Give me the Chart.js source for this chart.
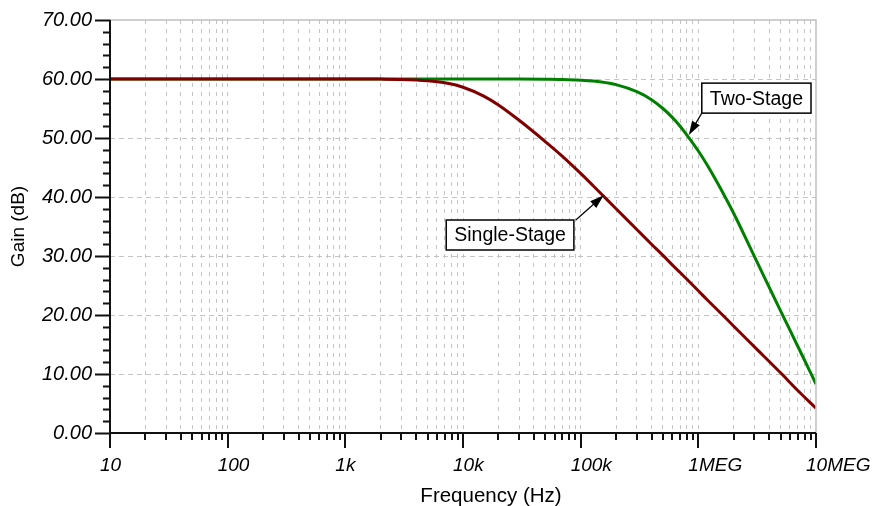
<!DOCTYPE html>
<html>
<head>
<meta charset="utf-8">
<script src="https://cdn.jsdelivr.net/npm/chart.js@4.4.1/dist/chart.umd.min.js"></script>
<style>
  html, body { margin: 0; padding: 0; background: #fff; }
</style>
</head>
<body>
<canvas id="gainChart" width="876" height="506"></canvas>
<script>
// frequency points (Hz) and gain (dB)
const freqs = [10, 100, 1000, 2000, 3000, 5000, 7000, 10000, 15000, 20000, 30000, 50000, 70000,
  100000, 150000, 200000, 300000, 400000, 500000, 600000, 700000, 800000,
  1e6, 1.2e6, 1.5e6, 2e6, 3e6, 5e6, 7e6, 1e7];
const singleStage = [60, 60, 60, 59.98, 59.93, 59.7, 59.35, 58.6, 57.1, 55.6, 53.0, 49.4, 46.9,
  44.0, 40.5, 38.0, 34.5, 32.0, 30.1, 28.5, 27.2, 26.05,
  24.1, 22.5, 20.6, 18.1, 14.6, 10.2, 7.2, 4.2];
const twoStage = [60, 60, 60, 60, 60, 60, 60, 60, 60, 60, 60, 59.97, 59.93,
  59.8, 59.5, 59.05, 57.85, 56.5, 55.0, 53.5, 52.0, 50.5,
  47.8, 45.3, 41.9, 37.2, 29.9, 20.7, 14.7, 8.3];

const xTickValues = [10, 100, 1000, 10000, 100000, 1e6, 1e7];
const xTickLabels = ["10", "100", "1k", "10k", "100k", "1MEG", "10MEG"];
const minorSteps = [1, 2, 3, 4, 5, 6, 7, 8, 9];
const yTickValues = [0, 10, 20, 30, 40, 50, 60, 70];

// callouts: box corner and arrow tip in data units
const callouts = [
  { text: "Single-Stage", boxF: 7200, boxDb: 36.1, tipF: 157000, tipDb: 40.3, from: "topRight" },
  { text: "Two-Stage", boxF: 1.07e6, boxDb: 59.3, tipF: 830000, tipDb: 50.5, from: "bottomLeft" }
];

const FONT = '"Liberation Sans", Arial, sans-serif';

const gridFreqs = [];
xTickValues.slice(0, -1).forEach((d) => minorSteps.forEach((m) => gridFreqs.push(d * m)));
gridFreqs.push(1e7);

function toPoints(values) {
  return freqs.map((f, i) => ({ x: f, y: values[i] }));
}

const axisExtras = {
  id: "axisExtras",
  afterDraw(chart) {
    const { ctx, chartArea: a, scales: { x, y } } = chart;
    ctx.save();

    // light frame on top and right
    ctx.strokeStyle = "#c0c0c0";
    ctx.lineWidth = 1.5;
    ctx.beginPath();
    ctx.moveTo(a.left, a.top);
    ctx.lineTo(a.right, a.top);
    ctx.lineTo(a.right, a.bottom);
    ctx.stroke();

    // axis lines
    ctx.strokeStyle = "#111";
    ctx.lineWidth = 2;
    ctx.beginPath();
    ctx.moveTo(a.left, a.top);
    ctx.lineTo(a.left, a.bottom);
    ctx.moveTo(a.left, a.bottom);
    ctx.lineTo(a.right, a.bottom);
    ctx.stroke();

    // y tick marks, minor every 2 dB
    ctx.beginPath();
    for (let v = 0; v <= 70; v += 2) {
      const py = Math.round(y.getPixelForValue(v)) + 0.5;
      const len = v % 10 === 0 ? 15 : 7;
      ctx.moveTo(a.left - len, py);
      ctx.lineTo(a.left, py);
    }
    // x tick marks
    gridFreqs.forEach((f) => {
      const px = Math.round(x.getPixelForValue(f));
      const len = xTickValues.includes(f) ? 15 : 7;
      ctx.moveTo(px, a.bottom);
      ctx.lineTo(px, a.bottom + len);
    });
    ctx.stroke();

    // x tick labels
    ctx.fillStyle = "#000";
    ctx.font = "italic 19px " + FONT;
    ctx.textAlign = "left";
    ctx.textBaseline = "middle";
    xTickValues.forEach((f, i) => {
      ctx.fillText(xTickLabels[i], x.getPixelForValue(f) - 10, a.bottom + 33);
    });

    // axis titles
    ctx.font = "20.5px " + FONT;
    ctx.textAlign = "center";
    ctx.fillText("Frequency (Hz)", (a.left + a.right) / 2 + 28, 496);
    ctx.font = "19px " + FONT;
    ctx.save();
    ctx.translate(19, (a.top + a.bottom) / 2);
    ctx.rotate(-Math.PI / 2);
    ctx.fillText("Gain (dB)", 0, 0);
    ctx.restore();

    // callouts
    ctx.font = "19.5px " + FONT;
    callouts.forEach((c) => {
      const bx = x.getPixelForValue(c.boxF);
      const by = y.getPixelForValue(c.boxDb);
      const w = ctx.measureText(c.text).width + 16;
      const h = 30;
      const tx = x.getPixelForValue(c.tipF);
      const ty = y.getPixelForValue(c.tipDb);
      const sx = c.from === "topRight" ? bx + w + 2 : bx;
      const sy = c.from === "topRight" ? by : by + h;

      const ang = Math.atan2(ty - sy, tx - sx);
      ctx.strokeStyle = "#000";
      ctx.fillStyle = "#000";
      ctx.lineWidth = 1.2;
      ctx.beginPath();
      ctx.moveTo(sx, sy);
      ctx.lineTo(tx - 8 * Math.cos(ang), ty - 8 * Math.sin(ang));
      ctx.stroke();
      ctx.beginPath();
      ctx.moveTo(tx, ty);
      ctx.lineTo(tx - 14 * Math.cos(ang) + 4.5 * Math.sin(ang), ty - 14 * Math.sin(ang) - 4.5 * Math.cos(ang));
      ctx.lineTo(tx - 14 * Math.cos(ang) - 4.5 * Math.sin(ang), ty - 14 * Math.sin(ang) + 4.5 * Math.cos(ang));
      ctx.closePath();
      ctx.fill();

      ctx.fillStyle = "#fff";
      ctx.fillRect(bx, by, w, h);
      ctx.lineWidth = 1.5;
      ctx.strokeRect(bx, by, w, h);
      ctx.fillStyle = "#000";
      ctx.textAlign = "center";
      ctx.fillText(c.text, bx + w / 2, by + h / 2 + 1);
    });

    ctx.restore();
  }
};

new Chart(document.getElementById("gainChart"), {
  type: "line",
  data: {
    datasets: [
      {
        label: "Single-Stage",
        data: toPoints(singleStage),
        borderColor: "#800000",
        borderWidth: 3,
        pointRadius: 0,
        cubicInterpolationMode: "monotone",
        fill: false,
      },
      {
        label: "Two-Stage",
        data: toPoints(twoStage),
        borderColor: "#008000",
        borderWidth: 3,
        pointRadius: 0,
        cubicInterpolationMode: "monotone",
        fill: false,
      },
    ],
  },
  options: {
    responsive: false,
    animation: false,
    layout: { padding: { left: 0, top: 20, right: 60, bottom: 0 } },
    plugins: { legend: { display: false }, tooltip: { enabled: false } },
    scales: {
      x: {
        type: "logarithmic",
        min: 10,
        max: 1e7,
        afterBuildTicks: (s) => { s.ticks = gridFreqs.map((v) => ({ value: v })); },
        afterFit: (s) => { s.height = 73; s.paddingLeft = 0; s.paddingRight = 0; },
        ticks: { display: false },
        grid: {
          drawTicks: false,
          lineWidth: 1,
          color: (c) => (c.tick && (c.tick.value === 10 || c.tick.value === 1e7)) ? "rgba(0,0,0,0)" : "#c4c4c4",
        },
        border: { display: false, dash: [4, 5] },
      },
      y: {
        min: 0,
        max: 70,
        afterBuildTicks: (s) => { s.ticks = yTickValues.map((v) => ({ value: v })); },
        afterFit: (s) => { s.width = 110; s.paddingTop = 0; s.paddingBottom = 0; },
        ticks: {
          padding: 18,
          color: "#000",
          font: { family: FONT, size: 20, style: "italic" },
          callback: (v) => Number(v).toFixed(2),
        },
        grid: {
          drawTicks: false,
          lineWidth: 1,
          color: (c) => (c.tick && (c.tick.value === 0 || c.tick.value === 70)) ? "rgba(0,0,0,0)" : "#c4c4c4",
        },
        border: { display: false, dash: [5, 4] },
      },
    },
  },
  plugins: [axisExtras],
});
</script>
</body>
</html>
